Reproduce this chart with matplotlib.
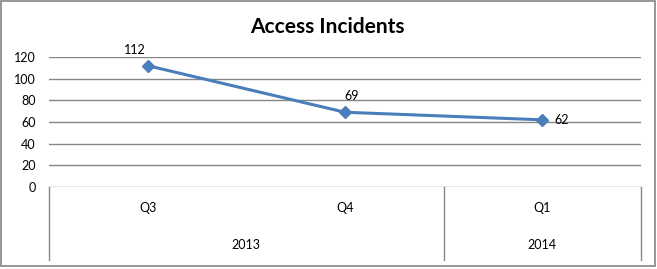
import matplotlib
matplotlib.use("Agg")
import matplotlib.pyplot as plt
from matplotlib.patches import Rectangle
from matplotlib.lines import Line2D
import matplotlib.transforms as mtransforms

title = "Access Incidents"
quarters = ["Q3", "Q4", "Q1"]
years = ["2013", "2014"]
year_counts = [2, 1]
values = [112, 69, 62]
yticks = [0, 20, 40, 60, 80, 100, 120]
# label offsets in pixels (dx, dy) relative to the marker
label_offsets_px = [(-13, 16), (7, 16), (19, 0)]

W, H = 657, 269
DPI = 100
fig = plt.figure(figsize=(W / DPI, H / DPI), dpi=DPI)
plt.rcParams['font.family'] = ['Lato', 'DejaVu Sans']

left, right, top, bottom = 49, 641, 57, 187
ax = fig.add_axes([left / W, 1 - bottom / H, (right - left) / W, (bottom - top) / H])
ax.set_xlim(-0.5, len(quarters) - 0.5)
ax.set_ylim(0, 120)
for s in ax.spines.values():
    s.set_visible(False)
ax.set_xticks([])
ax.set_yticks(yticks)
ax.set_yticklabels([str(t) for t in yticks], fontsize=9, color="#000000")
ax.tick_params(axis="y", length=0, pad=9.5)
grid_color = "#868686"
for t in yticks:
    ax.axhline(t, color=grid_color, lw=1.0, zorder=1)

x = list(range(len(quarters)))
ax.plot(x, values, color="#4A7EBB", lw=2.2, marker="D", markersize=6,
        markerfacecolor="#4A7EBB", markeredgecolor="#4A7EBB", zorder=3, clip_on=False)

for xi, v, (dx, dy) in zip(x, values, label_offsets_px):
    ax.annotate(str(v), (xi, v), xytext=(dx * 72 / DPI, dy * 72 / DPI),
                textcoords="offset points", ha="center", va="center", fontsize=9)

# category axis area
trans = mtransforms.blended_transform_factory(ax.transData, ax.transAxes)
axis_h = bottom - top
depth = (260 - bottom) / axis_h
q_y = -(208 - bottom) / axis_h
y_y = -(245 - bottom) / axis_h
bounds = [-0.5]
for c in year_counts:
    bounds.append(bounds[-1] + c)
for b in bounds:
    ax.add_line(Line2D([b, b], [0, -depth], transform=trans, color=grid_color,
                       lw=1.0, clip_on=False))
for xi, q in zip(x, quarters):
    ax.text(xi, q_y, q, transform=trans, ha="center", va="center", fontsize=9)
for i, yr in enumerate(years):
    ax.text((bounds[i] + bounds[i + 1]) / 2, y_y, yr, transform=trans,
            ha="center", va="center", fontsize=9)

fig.text(327 / W, 1 - 27 / H, title, ha="center", va="center", fontsize=15,
         fontweight="bold")

fig.patches.append(Rectangle((1 / W, 3 / H), 654 / W, 265 / H, transform=fig.transFigure,
                             fill=False, edgecolor="#868686", lw=1.2))

fig.savefig("out.png", dpi=DPI)
